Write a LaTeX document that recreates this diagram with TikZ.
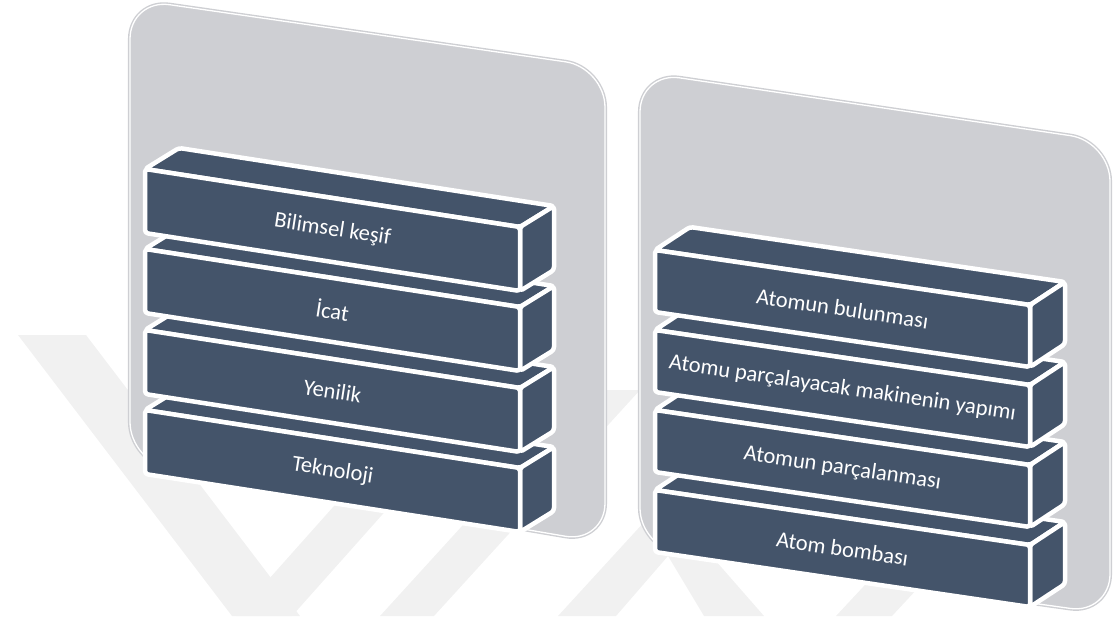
\documentclass[tikz,border=0pt]{standalone}
\usepackage{fontspec}
\setmainfont{Carlito}
\usepackage{xcolor}
\definecolor{KutuMavi}{RGB}{68, 84, 106}
\definecolor{PanelGri}{RGB}{206, 207, 211}
\definecolor{FiligranGri}{RGB}{241, 241, 241}
\usepackage{tikz}

\begin{document}
\begin{tikzpicture}[x=1pt,y=-1pt,line join=round]
  \tikzstyle{panel}=[fill=PanelGri,draw=PanelGri,line width=1.4pt,double=white,double distance=1.3pt,rounded corners=40pt]
  \tikzstyle{yuz}=[fill=KutuMavi,draw=white,line width=4.5pt,rounded corners=3pt]
  \tikzstyle{etiket}=[text=white,font=\fontsize{22.5}{26}\selectfont,inner sep=0pt]
  \tikzstyle{filigran}=[fill=FiligranGri,draw=none]

  \useasboundingbox (0,0) rectangle (1113,616);

  \fill[filigran] (18,335) -- (86,335) -- (300,616) -- (232,616) -- cycle;
  \fill[filigran] (236,616) -- (292,616) -- (520,360) -- (464,360) -- cycle;
  \fill[filigran] (380,616) -- (434,616) -- (640,390) -- (586,390) -- cycle;
  \fill[filigran] (558,616) -- (616,616) -- (668,556) -- (704,616) -- (764,616) -- (680,520) -- (646,520) -- cycle;
  \fill[filigran] (836,616) -- (892,616) -- (1000,500) -- (944,500) -- cycle;

  \path[panel] (130,-1) -- (605,67.5) -- (605,543) -- (130,462) -- cycle;
  \path[panel] (640,72) -- (1110,141.5) -- (1110,614) -- (640,548) -- cycle;

  \foreach \y/\isim/\yazi in {410/Teknoloji/Teknoloji, 330/Yenilik/Yenilik, 249/Icat/İcat, 169/BilimselKesif/Bilimsel keşif}{
    \draw[yuz] (145,\y) -- ++(34,-21) -- ++(375,58) -- ++(-34,21) -- cycle;
    \draw[yuz] (520,\y+58) -- ++(34,-21) -- ++(0,64) -- ++(-34,21) -- cycle;
    \draw[yuz] (145,\y) -- ++(375,58) -- ++(0,64) -- ++(-375,-58) -- cycle;
    \node[etiket,rotate=-8.8] (\isim) at (332.5,\y+61) {\yazi};
  }

  \foreach \y/\isim/\yazi in {490/AtomBombasi/Atom bombası, 410/AtomunParcalanmasi/Atomun parçalanması, 330/MakineYapimi/Atomu parçalayacak makinenin yapımı, 250/AtomunBulunmasi/Atomun bulunması}{
    \draw[yuz] (655,\y) -- ++(35,-23) -- ++(375,55) -- ++(-35,23) -- cycle;
    \draw[yuz] (1030,\y+55) -- ++(35,-23) -- ++(0,62) -- ++(-35,23) -- cycle;
    \draw[yuz] (655,\y) -- ++(375,55) -- ++(0,62) -- ++(-375,-55) -- cycle;
    \node[etiket,rotate=-8.4] (\isim) at (842.5,\y+58.5) {\yazi};
  }
\end{tikzpicture}
\end{document}
